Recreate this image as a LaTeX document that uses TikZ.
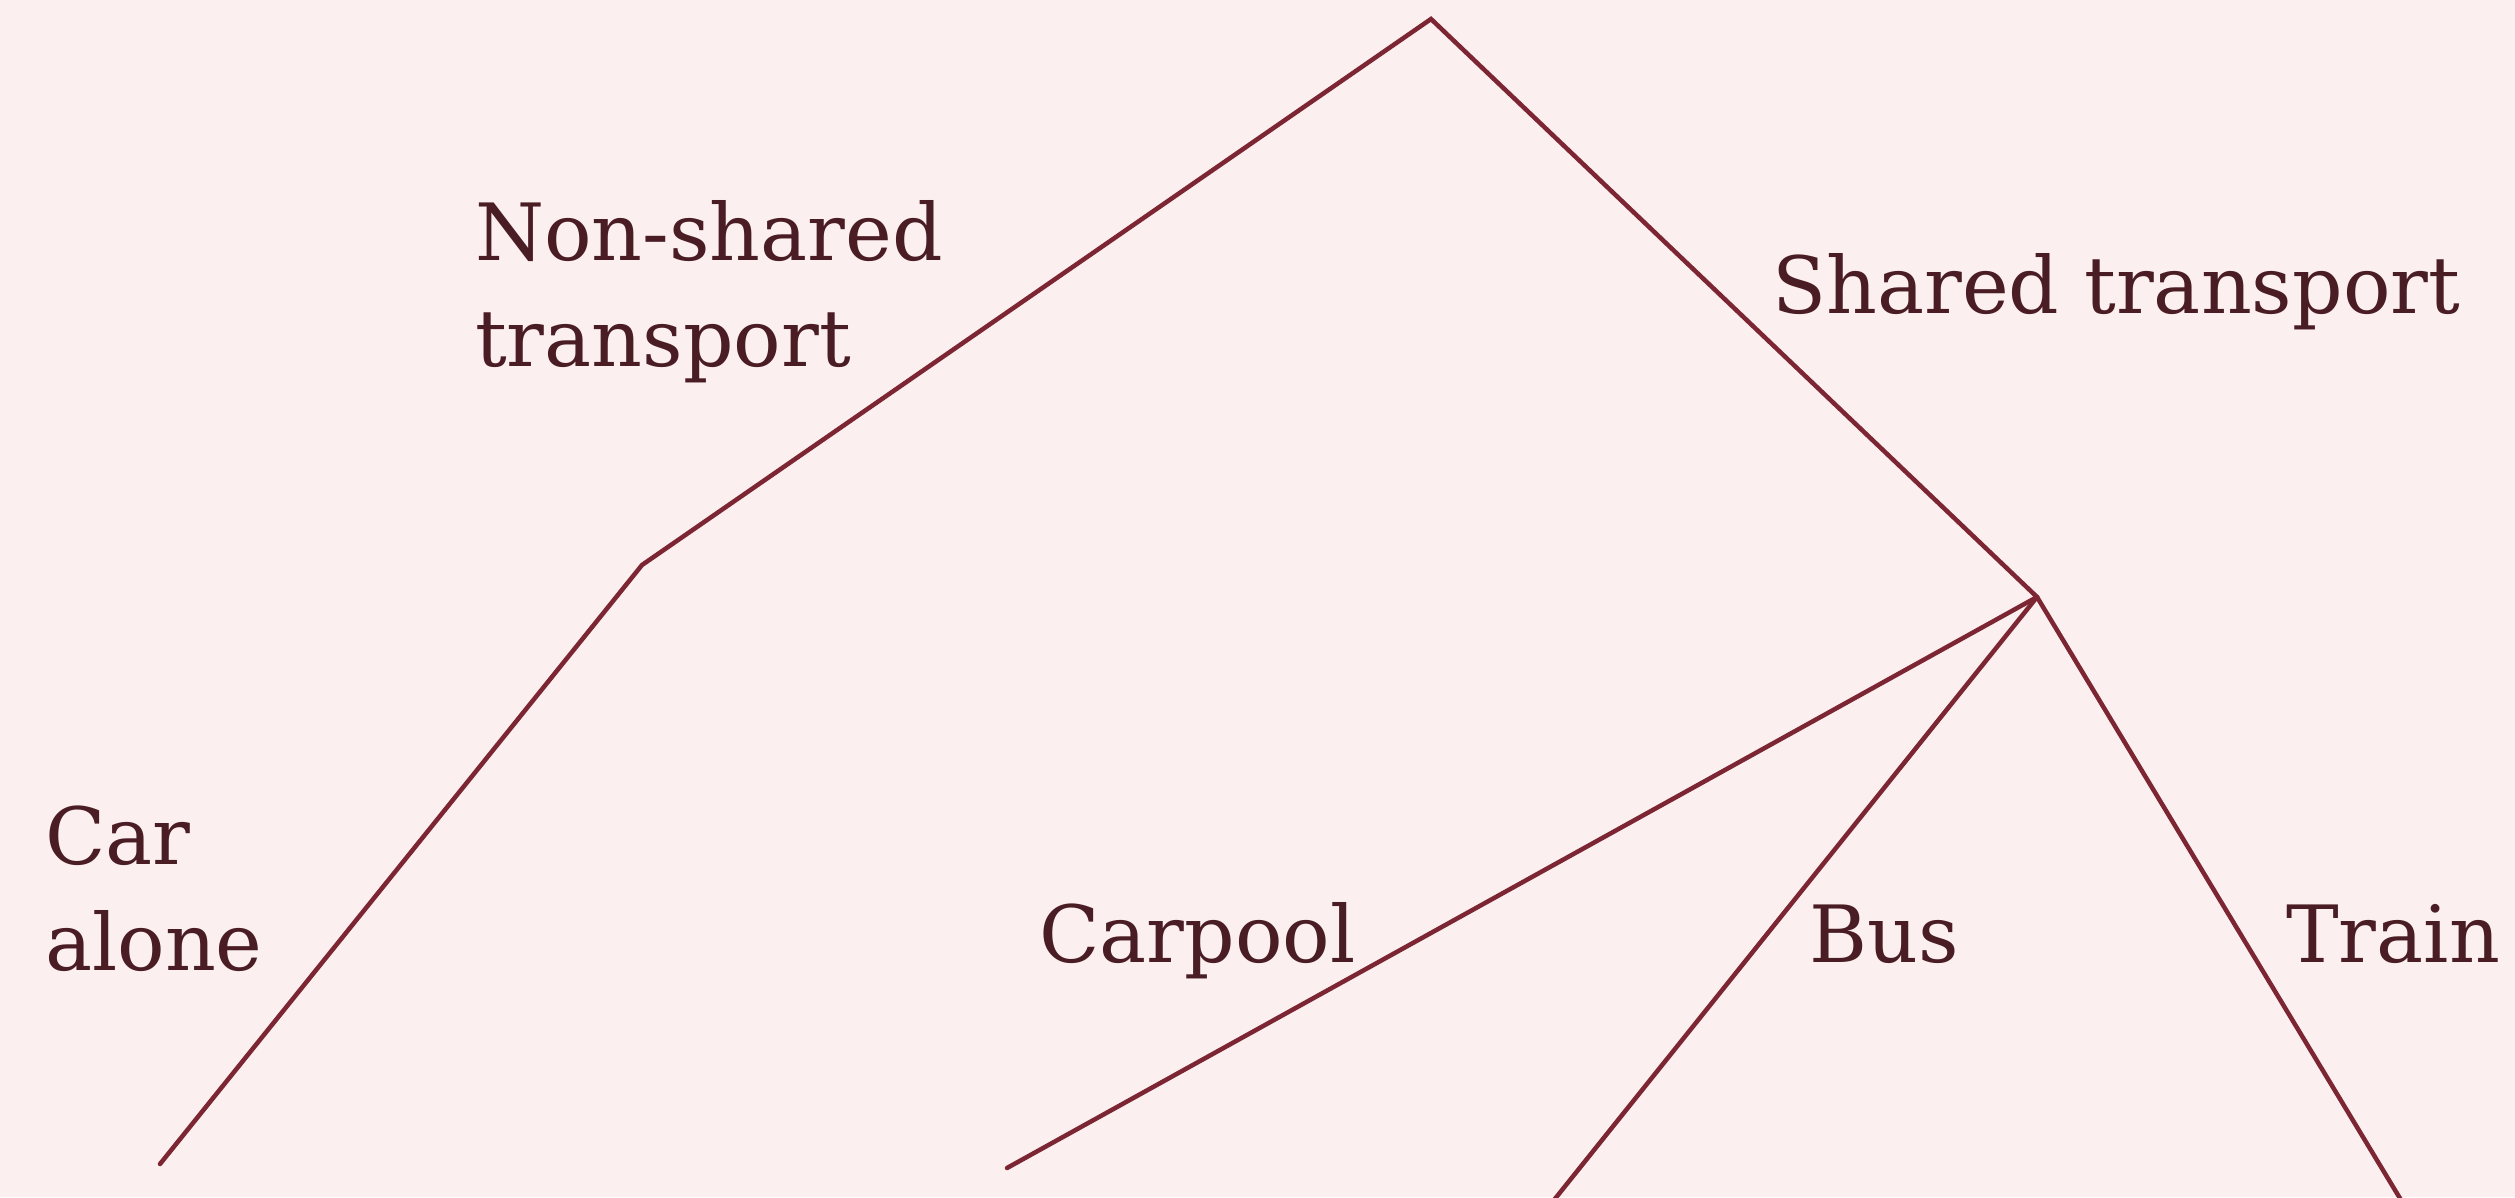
\documentclass[tikz,border=0pt]{standalone}
\usepackage{fontspec}
\setmainfont{DejaVu Serif}
\definecolor{bgpink}{HTML}{FBEFEF}
\definecolor{linered}{HTML}{7D2633}
\definecolor{textdark}{HTML}{4A1C24}
\begin{document}
\begin{tikzpicture}[x=1pt,y=-1pt,
  branch/.style={draw=linered,line width=4.5pt,line cap=round},
  lbl/.style={anchor=base west,inner sep=0pt,text=textdark,font=\fontsize{79}{106}\selectfont,align=left}]
\fill[bgpink] (0,0) rectangle (2515,1197);
\useasboundingbox (0,0) rectangle (2515,1197);
\begin{scope}
\clip (0,0) rectangle (2515,1197);
\coordinate (root) at (1431,19);
\coordinate (nonshared) at (642,565);
\coordinate (shared) at (2037,597);
\coordinate (car) at (160,1164);
\coordinate (carpool) at (1007,1168);
\coordinate (bus) at (1550,1205);
\coordinate (train) at (2404,1205);
\draw[branch] (car) -- (nonshared) -- (root) -- (shared) -- (train);
\draw[branch] (shared) -- (carpool);
\draw[branch] (shared) -- (bus);
\end{scope}
\node[lbl] (lns) at (475,366) {Non-shared\\transport};
\node[lbl] (lst) at (1772,313) {Shared transport};
\node[lbl] (lcar) at (45,970) {Car\\alone};
\node[lbl] (lcp) at (1039,962) {Carpool};
\node[lbl] (lbus) at (1809,962) {Bus};
\node[lbl] (ltr) at (2286,962) {Train};
\end{tikzpicture}
\end{document}
